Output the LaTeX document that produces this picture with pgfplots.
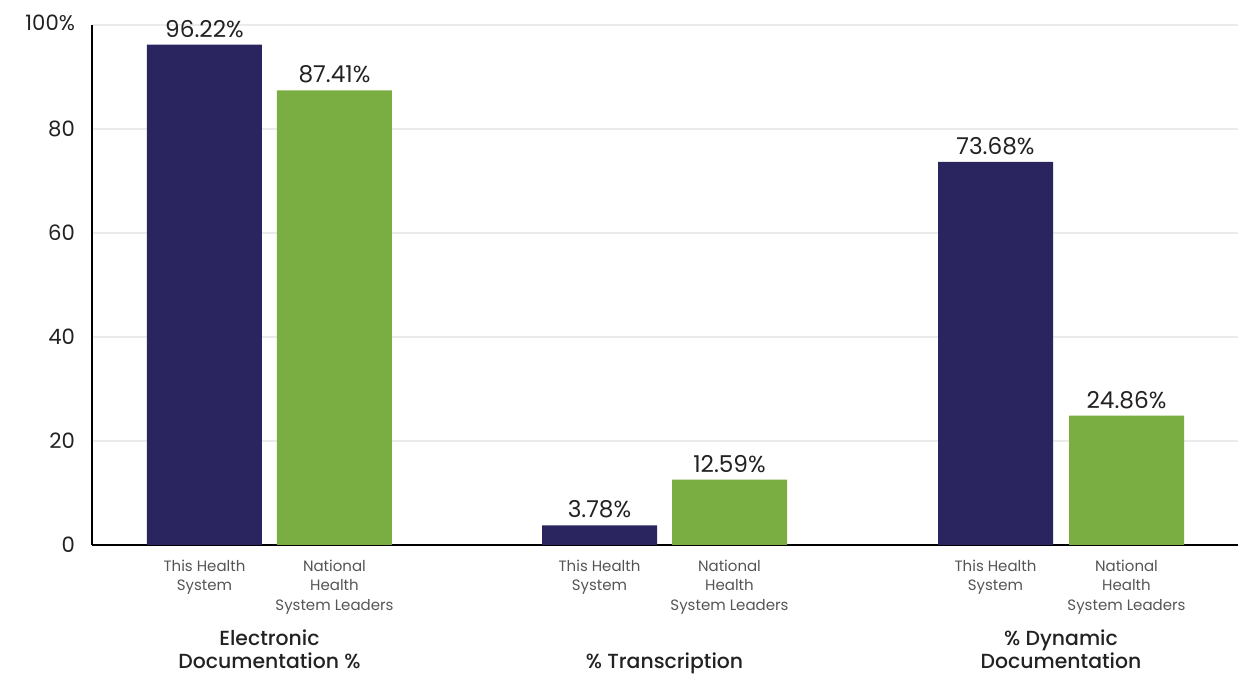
\documentclass[border=0pt]{standalone}
\usepackage{pgfplots}
\pgfplotsset{compat=1.18}
\usepackage{fontspec}
\setmainfont{Poppins}[BoldFont={Poppins Medium}]
\definecolor{navy}{HTML}{2A255F}
\definecolor{grn}{HTML}{7AAD42}
\definecolor{txt}{HTML}{222222}
\definecolor{sub}{HTML}{555555}
\begin{document}
\begin{tikzpicture}
\useasboundingbox (-46pt,-65pt) rectangle (573pt,272.5pt);
\begin{axis}[
  at={(0,0)}, anchor=south west,
  scale only axis, width=573pt, height=260pt,
  xmin=92, xmax=1238, ymin=0, ymax=100,
  axis x line*=bottom, axis y line*=left,
  axis line style={-, line width=1.1pt, black},
  ytick={0,20,40,60,80,100},
  yticklabels={0,20,40,60,80,\raisebox{2.5pt}{100\%}},
  ymajorgrids, grid style={black!8, line width=0.6pt},
  major tick length=0pt,
  /pgf/number format/assume math mode=true,
  yticklabel style={font=\fontsize{10.6}{12}\selectfont, text=txt, xshift=-5pt},
  xtick={204.5,334.5,599.5,729.5,995.5,1126.5},
  xticklabels={{This Health\\System},{National\\Health\\System Leaders},{This Health\\System},{National\\Health\\System Leaders},{This Health\\System},{National\\Health\\System Leaders}},
  xticklabel style={align=center, font=\fontsize{7.5}{9.7}\selectfont, text=sub, anchor=north, yshift=-4pt},
  clip=false,
  nodes near coords={\pgfmathprintnumber[fixed,precision=2,fixed zerofill]{\pgfplotspointmeta}\%},
  every node near coord/.append style={font=\fontsize{11.6}{13}\selectfont, text=txt, yshift=0pt},
]
\addplot[ybar, bar width=115, bar shift=0pt, fill=navy, draw=none] coordinates {(204.5,96.22) (599.5,3.78) (995.5,73.68)};
\addplot[ybar, bar width=115, bar shift=0pt, fill=grn, draw=none] coordinates {(334.5,87.41) (729.5,12.59) (1126.5,24.86)};
\node[font=\bfseries\fontsize{10.2}{11}\selectfont, text=txt, anchor=base] at (axis cs:269.5,-19.4) {Electronic};
\node[font=\bfseries\fontsize{10.2}{11}\selectfont, text=txt, anchor=base] at (axis cs:269.5,-23.7) {Documentation \%};
\node[font=\bfseries\fontsize{10.2}{11}\selectfont, text=txt, anchor=base] at (axis cs:664.5,-23.7) {\% Transcription};
\node[font=\bfseries\fontsize{10.2}{11}\selectfont, text=txt, anchor=base] at (axis cs:1061,-19.4) {\% Dynamic};
\node[font=\bfseries\fontsize{10.2}{11}\selectfont, text=txt, anchor=base] at (axis cs:1061,-23.7) {Documentation};
\end{axis}
\end{tikzpicture}
\end{document}
